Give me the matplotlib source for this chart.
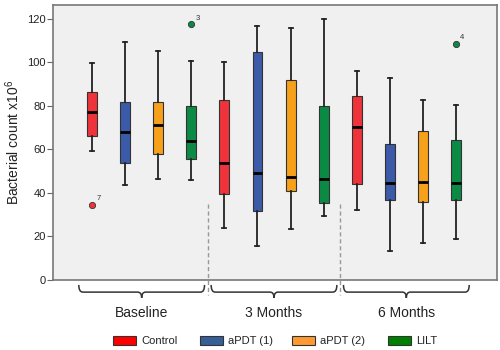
import matplotlib
matplotlib.use("Agg")
import matplotlib.pyplot as plt
from matplotlib.patches import Rectangle, PathPatch
from matplotlib.path import Path
import matplotlib.transforms as mtransforms

plt.rcParams["font.family"] = ["Liberation Sans", "DejaVu Sans"]
plt.rcParams["mathtext.fontset"] = "custom"
plt.rcParams["mathtext.rm"] = "Liberation Sans"

# ── data ──────────────────────────────────────────────────
periods = ["Baseline", "3 Months", "6 Months"]
groups = ["Control", "aPDT (1)", "aPDT (2)", "LILT"]

# per box: low whisker, Q1, median, Q3, high whisker (period-major order)
whislo = [59.5, 43.8, 46.3, 46.0,   24.0, 15.5, 23.4, 29.6,   32.3, 13.2, 17.2, 19.0]
q1     = [66.3, 53.8, 58.1, 55.5,   39.7, 31.9, 41.1, 35.4,   44.3, 36.9, 35.7, 36.9]
med    = [77.2, 68.2, 71.1, 63.9,   53.8, 49.2, 47.5, 46.6,   70.5, 44.6, 45.1, 44.7]
q3     = [86.6, 81.7, 81.7, 79.8,   82.5, 104.8, 91.8, 80.0,  84.4, 62.4, 68.6, 64.4]
whishi = [99.8, 109.4, 105.0, 100.5, 100.0, 116.9, 115.6, 119.8, 95.9, 93.0, 82.9, 80.6]

# outliers: (box index, value, case label)
outliers = [(0, 34.5, "7"), (3, 117.4, "3"), (11, 108.5, "4")]

box_colors = ["#EE333A", "#3B5BA9", "#F7A11A", "#0B8A45"]
legend_colors = ["#FF0000", "#375E97", "#FF9933", "#008000"]

# ── figure ────────────────────────────────────────────────
fig = plt.figure(figsize=(5, 3.5), dpi=100)
ax = fig.add_axes([0.106, 0.2, 0.888, 0.786])
ax.set_facecolor("#F0F0F0")

stats = []
for i in range(12):
    stats.append({"whislo": whislo[i], "q1": q1[i], "med": med[i],
                  "q3": q3[i], "whishi": whishi[i], "fliers": []})

positions = list(range(1, 13))
bp = ax.bxp(stats, positions=positions, widths=0.3, capwidths=0.12,
            patch_artist=True, showfliers=False,
            boxprops=dict(edgecolor="#333333", linewidth=0.8),
            whiskerprops=dict(color="#222222", linewidth=1.3),
            capprops=dict(color="#222222", linewidth=1.3),
            medianprops=dict(color="black", linewidth=2))
for i, box in enumerate(bp["boxes"]):
    box.set_facecolor(box_colors[i % 4])

for idx, val, lab in outliers:
    ax.plot(positions[idx], val, "o", ms=4.5, mfc=box_colors[idx % 4],
            mec="#333333", mew=0.6, zorder=5)
    ax.text(positions[idx] + 0.13, val + 1.2, lab, fontsize=5.5,
            color="#333333", ha="left", va="bottom")

ax.set_xlim(-0.18, 13.24)
ax.set_ylim(0, 126.4)
ax.set_yticks([0, 20, 40, 60, 80, 100, 120])
ax.set_xticks([])
ax.tick_params(axis="y", labelsize=8, length=4, color="#666666",
               labelcolor="#222222", pad=1)
for s in ax.spines.values():
    s.set_color("#777777")
    s.set_linewidth(1.2)

ax.set_ylabel("Bacterial count x10$^{6}$", fontsize=10, labelpad=4,
              color="#222222")

# dashed separators between periods
trans = mtransforms.blended_transform_factory(ax.transData, ax.transAxes)
for xs in [4.5, 8.5]:
    ax.plot([xs, xs], [35 / 126.4, -0.055], transform=trans, ls=(0, (3, 2)),
            color="#999999", lw=1, clip_on=False)

# curly braces with period labels
for k, name in enumerate(periods):
    c = 2.5 + 4 * k
    x0, x1 = c - 1.9, c + 1.9
    y0, y1, y2 = -0.018, -0.044, -0.065
    r = 0.12
    verts = [(x0, y0), (x0, y1), (x0 + r, y1),
             (c - r, y1), (c, y1), (c, y2),
             (c, y1), (c + r, y1),
             (x1 - r, y1), (x1, y1), (x1, y0)]
    codes = [Path.MOVETO, Path.CURVE3, Path.CURVE3,
             Path.LINETO, Path.CURVE3, Path.CURVE3,
             Path.CURVE3, Path.CURVE3,
             Path.LINETO, Path.CURVE3, Path.CURVE3]
    pp = PathPatch(Path(verts, codes), transform=trans, fill=False,
                   edgecolor="#333333", lw=1.1, clip_on=False)
    ax.add_patch(pp)
    ax.text(c, -0.12, name, transform=trans, ha="center", va="center",
            fontsize=10, color="#222222")

# legend drawn by hand to match the spacing
leg_x = [113, 200, 292, 388]
for x, col, name in zip(leg_x, legend_colors, groups):
    fig.patches.append(Rectangle((x / 500, (350 - 345) / 350), 23 / 500,
                                 9 / 350, transform=fig.transFigure,
                                 facecolor=col, edgecolor="#333333", lw=0.8))
    fig.text((x + 28) / 500, (350 - 340.5) / 350, name, fontsize=8,
             va="center", ha="left", color="#222222")

fig.savefig("out.png", dpi=100)
